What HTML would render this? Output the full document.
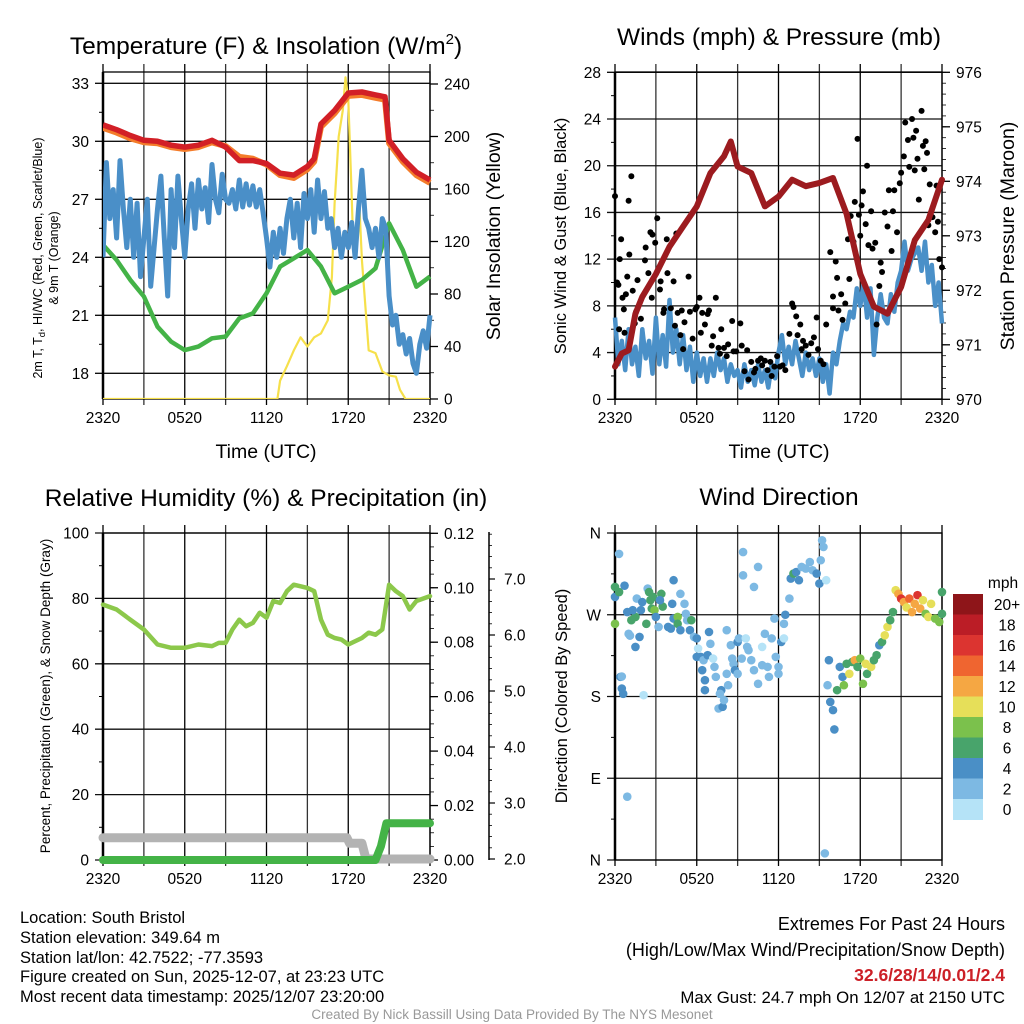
<!DOCTYPE html>
<html><head><meta charset="utf-8">
<style>
html,body{margin:0;padding:0;background:#fff;}
svg{display:block;font-family:"Liberation Sans",sans-serif;}
</style></head>
<body>
<svg id="chart" width="1024" height="1024" viewBox="0 0 1024 1024" xmlns="http://www.w3.org/2000/svg">
<rect x="0" y="0" width="1024" height="1024" fill="#fff"/>
<text x="266" y="54" font-size="24.5" text-anchor="middle">Temperature (F) &amp; Insolation (W/m<tspan font-size="15" dy="-10">2</tspan><tspan dy="10">)</tspan></text>
<text x="779" y="45" font-size="24.5" text-anchor="middle">Winds (mph) &amp; Pressure (mb)</text>
<text x="266" y="506" font-size="24.5" text-anchor="middle">Relative Humidity (%) &amp; Precipitation (in)</text>
<text x="779" y="505" font-size="24.5" text-anchor="middle">Wind Direction</text>

<text x="266" y="458" font-size="19.5" text-anchor="middle">Time (UTC)</text>
<text x="779" y="458" font-size="19.5" text-anchor="middle">Time (UTC)</text>

<text transform="translate(42,258) rotate(-90)" font-size="12.5" text-anchor="middle">2m T, T<tspan font-size="9.5" dy="3">d</tspan><tspan dy="-3">, HI/WC (Red, Green, Scarlet/Blue)</tspan></text>
<text transform="translate(58,258) rotate(-90)" font-size="12.5" text-anchor="middle">&amp; 9m T (Orange)</text>
<text transform="translate(500,236) rotate(-90)" font-size="19.5" text-anchor="middle">Solar Insolation (Yellow)</text>
<text transform="translate(566,236) rotate(-90)" font-size="16.5" text-anchor="middle">Sonic Wind &amp; Gust (Blue, Black)</text>
<text transform="translate(1014,236) rotate(-90)" font-size="19.5" text-anchor="middle">Station Pressure (Maroon)</text>
<text transform="translate(50,696) rotate(-90)" font-size="13.5" text-anchor="middle">Percent, Precipitation (Green), &amp; Snow Depth (Gray)</text>
<text transform="translate(567,696) rotate(-90)" font-size="16.5" text-anchor="middle">Direction (Colored By Speed)</text>

<g font-size="16.5">
<text x="20" y="923">Location: South Bristol</text>
<text x="20" y="943">Station elevation: 349.64 m</text>
<text x="20" y="963">Station lat/lon: 42.7522; -77.3593</text>
<text x="20" y="982">Figure created on Sun, 2025-12-07, at 23:23 UTC</text>
<text x="20" y="1002">Most recent data timestamp: 2025/12/07 23:20:00</text>
</g>
<g font-size="18" text-anchor="end">
<text x="1005" y="930">Extremes For Past 24 Hours</text>
<text x="1005" y="956">(High/Low/Max Wind/Precipitation/Snow Depth)</text>
<text x="1005" y="981" fill="#cc2027" font-weight="bold" font-size="17.5">32.6/28/14/0.01/2.4</text>
<text x="1005" y="1003" font-size="16.8">Max Gust: 24.7 mph On 12/07 at 2150 UTC</text>
</g>
<text x="512" y="1019" font-size="13.5" fill="#999" text-anchor="middle">Created By Nick Bassill Using Data Provided By The NYS Mesonet</text>
<g id="layer"></g>
</svg>
<script>
// ---------- DATA ----------
var tempHours = [0,1,2,3,4,5,6,7,8,9,10,11,12,13,14,15,15.5,16,17,18,19,20,20.7,21,22,23,24];
var tempVals = [30.85,30.6,30.3,30.05,30.0,29.8,29.7,29.8,30.05,29.7,29.0,29.0,28.85,28.35,28.25,28.7,29.1,30.9,31.6,32.5,32.55,32.4,32.3,30.05,29.1,28.4,28.0];
var temp9mVals = [30.7,30.45,30.15,29.95,29.9,29.7,29.6,29.7,29.95,29.75,29.2,29.1,28.8,28.25,28.1,28.55,28.95,30.75,31.45,32.35,32.4,32.25,32.15,29.9,28.95,28.25,27.85];
var dewHours = [0,1,2,3,4,5,6,7,8,9,10,11,12,13,14,15,16,17,18,19,20,21,22,23,24];
var dewVals = [24.64,23.86,22.83,21.97,20.41,19.64,19.2,19.38,19.81,19.9,20.84,21.1,22.14,23.52,23.95,24.38,23.52,22.14,22.48,22.83,23.43,25.76,24.38,22.48,23.0];
var wcVals = [24,28.9,26,27.5,25,29,26.5,24.5,27,24,26.8,23,25,27,22.5,24.5,26.5,28.2,25,22,27.5,24.5,28.2,26,24,26.5,27.8,25.5,28,26.5,27.6,25.8,28.8,27,26.3,28.3,27,26.8,27.5,26.5,28,26.6,27.8,26.7,27.7,26.6,27.5,26.3,25,23.5,25.3,24,25.5,24.2,26,27,25,26.8,24.5,27.3,26,27.5,25.3,28,26,27.4,25.5,26,24.5,25.5,24,25.3,24.5,25.8,24,26.5,28.5,26,25.5,24.5,25.5,24,26,25.5,22,20.5,21,19.5,20,19,19.8,18.5,18,19.5,20.2,19.3,21];
var solarHours = [0,12.8,13,13.5,14,14.5,15,15.5,16,16.5,16.8,17,17.3,17.6,17.8,18,18.2,18.4,18.6,18.8,19,19.5,20,20.5,21,21.5,21.8,22.2,24];
var solarVals = [0,0,14,25,37,47,40,47,50,60,93,149,200,220,245,228,170,108,131,152,106,37,35,21,18,17,7,0,0];
var presHours = [0,0.5,1,1.5,2,3,4,5,6,7,8,8.5,9,10,11,12,13,14,15,16,17,18,19,20,21,22,23,24];
var presVals = [970.6,970.84,970.9,971.57,971.88,972.3,972.8,973.17,973.54,974.15,974.46,974.73,974.27,974.15,973.54,973.72,974.03,973.91,973.97,974.06,973.4,972.3,971.7,971.57,972.06,972.92,973.29,974.03];
var windVals = [7,3,5,2.5,6,3,4.5,2,6,3.5,5,2.2,7,3,5.5,2.8,8.5,4,6,3,5.5,2.5,4.5,1.5,4,2,3.5,1.5,3.5,2,4,2.5,3.5,1.5,3,2,2.5,1,3,1.5,2.5,1.2,3,1.5,2.5,1,3,1.8,4,5.5,3,4.5,3,5,3.5,2,4,2.5,3.5,2,3.5,1.5,3,0.5,4,3,5,6.5,6,7.5,7,9.5,8,10,7,9.5,3.8,7,9,7,6.5,9,7.5,10,11,13.5,11,12,12.5,13,11,13.5,10,11.5,8,10,6.5];
var gustHours = [0,0.15,0.25,0.3,0.35,0.45,0.55,0.65,0.7,0.8,0.9,1.0,1.05,1.2,1.3,1.45,1.55,1.65,1.9,2.2,2.25,2.45,2.6,2.7,2.75,2.95,3.1,3.3,3.35,3.55,3.6,3.8,3.85,4.1,4.3,4.4,4.5,4.6,4.8,4.9,5.0,5.1,5.4,5.5,5.7,5.9,6.0,6.2,6.3,6.4,6.6,6.8,6.9,7.1,7.2,7.4,7.6,7.7,7.8,8.0,8.2,8.3,8.6,8.7,8.9,9.2,9.3,9.5,9.7,9.8,10.0,10.2,10.3,10.5,10.7,10.8,11.0,11.2,11.4,11.5,11.7,11.9,12.1,12.3,12.5,12.8,13.0,13.1,13.3,13.4,13.6,13.7,13.8,14.0,14.2,14.4,14.6,14.8,14.9,15.1,15.3,15.5,15.8,16.0,16.0,16.2,16.3,16.4,16.6,16.7,16.9,17.1,17.2,17.3,17.5,17.6,17.8,17.9,18.0,18.1,18.2,18.4,18.5,18.6,18.8,18.9,19.1,19.2,19.4,19.5,19.6,19.8,20.0,20.1,20.3,20.4,20.5,20.7,20.9,21.0,21.2,21.3,21.5,21.6,21.8,21.9,22.0,22.1,22.2,22.3,22.5,22.6,22.7,22.8,22.9,23.0,23.1,23.3,23.5,23.6,23.7,23.8,24.0];
var gustVals = [17.4,10,9.8,6,12,13.7,8.7,7.7,5.7,9,10.5,17,12.4,19.1,9.3,6.5,7.5,10.2,6.9,11.9,13,10.8,14.3,8.7,14.1,13.4,15.5,9.4,10.1,7.4,7.7,13.7,10.8,7.8,10.1,6.3,14.2,7.4,5.5,7.6,4.3,6.6,10.5,7.5,5.2,7.7,7.9,8.7,5.7,7.4,6.4,7.3,7.6,4.6,5.4,8.7,4.4,3.9,6.0,4.4,3.7,4.7,6.7,4.1,4.1,6.5,4.6,2.4,4.2,1.7,3.2,2.3,2.6,3.3,3.5,2.9,3.3,2.5,3.2,2.0,2.8,3.7,2.8,2.9,2.5,5.6,8.2,7.9,7.1,5.5,6.4,4.3,5.0,4.6,3.8,4.8,5.3,7.0,4.3,3.3,3.0,6.4,12.6,8.8,7.8,11.8,10.4,7.6,9.0,6.8,8.2,13.7,10.3,15.7,13.5,16.9,22.3,15.8,14.0,16.6,17.8,15.0,20.0,13.2,16.1,12.9,13.4,6.4,9.7,11.7,10.9,16.0,14.8,17.9,12.7,16.1,17.9,14.3,18.5,19.4,20.8,23.7,22.2,19.9,24.0,22.4,19.6,23.0,20.6,17.1,24.7,21.7,19.7,22.1,21.1,14.9,18.4,15.6,14.3,18.3,15.2,12.0,11.3];
var rhHours = [0,1,2,3,4,5,6,7,8,8.5,9,9.5,10,10.5,11,11.5,12,12.5,13,13.5,14,15,15.5,16,16.5,17,17.5,18,19,19.5,20,20.5,21,21.5,22,22.5,23,24];
var rhVals = [78.1,76.6,73.5,70.5,65.9,64.9,64.9,65.9,65.4,66.4,66.4,70.5,73.5,71.5,72.5,75.6,74.1,79.2,78.6,82.2,84.2,83.2,82.2,73.5,68.9,67.9,67.4,65.9,67.9,69.5,68.9,70.5,84.2,82.2,80.7,76.6,79.2,80.7];
var precipHours = [0,20,20.4,20.8,24];
var precipVals = [0,0,0.005,0.0135,0.0135];
var snowHours = [0,17.9,18.1,19.0,19.3,24];
var snowVals = [2.38,2.38,2.28,2.28,2.0,2.0];
var dirHours = [0,0,0,0.3,0.3,0.7,0.4,0.5,0.5,0.6,0.9,0.9,1.0,1.1,1.5,1.8,1.5,1.2,1.3,1.6,1.9,2.0,2.1,2.3,2.4,2.5,2.6,2.8,2.7,2.9,3.0,3.2,3.4,3.5,3.3,3.9,4.1,4.3,4.3,4.2,4.6,4.6,4.8,4.8,5.1,5.2,5.3,5.5,5.6,5.8,6.0,6.1,6.0,6.3,6.5,6.4,6.6,6.6,6.8,6.9,7.0,7.2,7.3,7.4,7.6,7.8,7.7,7.9,8.0,8.2,8.3,8.2,8.5,8.6,8.7,8.8,9.0,9.1,9.0,9.3,9.4,9.4,9.6,9.7,9.8,10.0,10.2,10.2,10.5,10.5,10.8,10.8,11.0,11.2,11.3,11.5,11.7,11.8,12.0,12.0,12.2,12.4,12.4,12.5,12.8,12.9,13.1,13.3,13.5,13.7,14.0,14.3,14.5,14.8,15.0,15.1,15.2,15.3,15.5,15.4,15.7,15.6,15.8,16.0,16.1,16.3,16.5,16.7,16.8,17.0,17.2,17.4,17.6,17.8,18.0,18.2,18.4,18.5,18.8,19.0,19.2,19.4,19.6,19.8,20.0,20.2,20.4,20.6,20.8,21.0,21.2,21.4,21.6,21.8,22.0,22.2,22.4,22.6,22.8,23.0,23.2,23.5,23.8,24.0,24.0];
var dirDegs = [300.6,289.6,260,337,295,302,201.6,202,188.8,183,69.7,273,249,247,234.6,245.6,267.6,264,275,287.8,275,284,181.5,260,298.8,295,286,289.6,276.8,275,267.6,256.6,293,279,286,256.6,254.8,265.8,308,282,267.6,260,293,253,282,271,264,253,264,245.6,244,232.8,223.6,223.6,220,209,187,198,225.5,251,238,221.8,212.6,201.6,166.8,187,183,168.6,176,205,192.4,253,236.5,221.8,216,209,240,244,205,221.8,339,313.4,244,234.6,231,220,209,300.6,322.6,194,214.5,234.6,249,212.6,201.6,244,265.8,223.6,212.6,205,240,244,260,270,287.8,309.8,315.3,317,308,322.6,320.8,328,319,315.3,304.3,330,352,344.6,308,7.3,220,192.4,174,165,143.7,187,212.6,201.6,192.4,216,205,218,220,212.6,221.8,194,216,205,212.6,220,225.5,236.5,240,247.4,256.6,264,273,297,293,287.8,284,278,287.8,273,282,291.6,276.8,286,271,267.6,282,265.8,262,295,271];
var dirSpeeds = [6,4,8,2,6,4,4,2,4,4,2,4,2,2,4,4,6,6,4,2,4,4,0,6,2,6,6,6,6,8,4,2,6,6,4,4,4,4,4,4,8,6,2,4,2,2,2,4,6,2,4,0,4,4,2,4,4,4,4,4,2,0,2,2,2,4,2,4,2,2,2,2,2,2,2,4,4,2,2,2,2,2,0,2,2,2,2,2,2,2,2,0,2,2,2,2,2,2,2,2,4,0,2,4,2,4,6,4,4,2,2,2,2,4,4,2,2,2,0,2,4,2,4,4,4,6,4,4,8,6,10,6,12,6,8,8,10,6,10,6,6,4,6,10,10,6,6,10,12,16,12,10,14,12,12,16,12,10,8,10,10,8,8,6,6];
var speedBinColors = ["#b5e3f7","#7db9e3","#4a8fc6","#48a46b","#7bc14c","#e6df59","#f5a743","#ef6530","#dc3430","#bb1d26","#8e1519"];
var speedBinLabels = ["0","2","4","6","8","10","12","14","16","18","20+"];
var timeTickLabels = ["2320","0520","1120","1720","2320"];

// ---------- HELPERS ----------
var NS = "http://www.w3.org/2000/svg";
var layer = document.getElementById("layer");
var TF = 15.5;
function mk(tag, attrs, parent) {
  var e = document.createElementNS(NS, tag);
  for (var k in attrs) e.setAttribute(k, attrs[k]);
  (parent || layer).appendChild(e);
  return e;
}
function txt(x, y, s, size, anchor, parent) {
  var t = mk("text", {x: x, y: y, "font-size": size, "text-anchor": anchor}, parent);
  t.textContent = s;
  return t;
}
function linearScale(d0, d1, r0, r1) { return function (v) { return r0 + (v - d0) / (d1 - d0) * (r1 - r0); }; }
function pathFrom(xs, ys, sx, sy) {
  var d = "";
  for (var i = 0; i < xs.length; i++) d += (i ? "L" : "M") + sx(xs[i]).toFixed(1) + "," + sy(ys[i]).toFixed(1);
  return d;
}
function seqHours(n) { var a = []; for (var i = 0; i < n; i++) a.push(i * 24 / (n - 1)); return a; }

function panelFrame(name, x0, y0, x1, y1, leftTicks, leftSy, rightAxis) {
  var g = mk("g", {});
  
  
  var sx = linearScale(0, 24, x0, x1);
  for (var h = 0; h <= 24; h += 3) {
    var x = sx(h);
    var vl = mk("line", {x1: x, y1: y0 - 8, x2: x, y2: y1 + 6, stroke: (h % 6 === 0 ? "#000" : "#333"), "stroke-width": 1.3}, g);
    
    
  }
  for (var i = 0; i < timeTickLabels.length; i++) {
    var tl = txt(sx(i * 6), y1 + 24, timeTickLabels[i], TF, "middle", g);
    
    
  }
  for (var j = 0; j < leftTicks.length; j++) {
    var y = leftSy(leftTicks[j].v);
    var hl = mk("line", {x1: x0 - 8, y1: y, x2: x1, y2: y, stroke: "#111", "stroke-width": 1.3}, g);
    
    
    var lt = txt(x0 - 14, y + 5.5, leftTicks[j].s, TF, "end", g);
    
    
    if (j < leftTicks.length - 1) {
      var ym = (y + leftSy(leftTicks[j + 1].v)) / 2;
      mk("line", {x1: x0 - 4, y1: ym, x2: x0, y2: ym, stroke: "#000", "stroke-width": 1}, g);
    }
  }
  var fr = mk("rect", {x: x0, y: y0, width: x1 - x0, height: y1 - y0, fill: "none", stroke: "#000", "stroke-width": 1.3}, g);
  
  
  mk("line", {x1: x0, y1: y0, x2: x0, y2: y1, stroke: "#000", "stroke-width": 2.5}, g);
  if (rightAxis) {
    var ra = rightAxis;
    for (var k = 0; k < ra.ticks.length; k++) {
      var yy = ra.sy(ra.ticks[k].v);
      mk("line", {x1: ra.x, y1: yy, x2: ra.x + 8, y2: yy, stroke: "#000", "stroke-width": 1.3}, g);
      var rt = txt(ra.x + 14, yy + 5.5, ra.ticks[k].s, TF, "start", g);
      
      
    }
    for (var m = 0; m < ra.minor.length; m++) {
      var ym2 = ra.sy(ra.minor[m]);
      mk("line", {x1: ra.x, y1: ym2, x2: ra.x + 4, y2: ym2, stroke: "#000", "stroke-width": 0.8}, g);
    }
  }
  return sx;
}
function range(a, b, s) { var r = []; for (var v = a; v <= b + 1e-9; v += s) r.push(+v.toFixed(4)); return r; }
function ticksOf(vals, fmt) { return vals.map(function (v) { return {v: v, s: fmt(v)}; }); }

// ---------- PANEL 1: Temperature ----------
(function () {
  var x0 = 103, x1 = 430, y0 = 72, y1 = 399;
  var sy = linearScale(18, 33, 373.3, 83.3);
  var sySol = linearScale(0, 240, 399, 84);
  var sx = panelFrame("temp", x0, y0, x1, y1, ticksOf([18, 21, 24, 27, 30, 33], String), sy,
    {x: x1, sy: sySol, ticks: ticksOf([0, 40, 80, 120, 160, 200, 240], String), minor: range(20, 240, 20)});
  var clip = mk("clipPath", {id: "clip1"});
  mk("rect", {x: x0, y: y0 - 4, width: x1 - x0 + 3, height: y1 - y0 + 4}, clip);
  var g = mk("g", {"clip-path": "url(#clip1)"});
  var sol = mk("path", {d: pathFrom(solarHours, solarVals, sx, sySol), fill: "none", stroke: "#f6e04b", "stroke-width": 2.2, "stroke-linejoin": "round"}, g);
  
  
  var dew = mk("path", {d: pathFrom(dewHours, dewVals, sx, sy), fill: "none", stroke: "#44b347", "stroke-width": 4.5, "stroke-linejoin": "round"}, g);
  
  
  var wc = mk("path", {d: pathFrom(seqHours(wcVals.length), wcVals, sx, sy), fill: "none", stroke: "#4a8fc8", "stroke-width": 5, "stroke-linejoin": "round"}, g);
  
  
  var t9 = mk("path", {d: pathFrom(tempHours, temp9mVals, sx, sy), fill: "none", stroke: "#f47c2a", "stroke-width": 6, "stroke-linejoin": "round"}, g);
  
  
  var t2 = mk("path", {d: pathFrom(tempHours, tempVals, sx, sy), fill: "none", stroke: "#d21f26", "stroke-width": 5.5, "stroke-linejoin": "round"}, g);
  
  
})();

// ---------- PANEL 2: Winds ----------
(function () {
  var x0 = 615, x1 = 942, y0 = 72, y1 = 399;
  var sy = linearScale(0, 28, 399.3, 72.3);
  var syP = linearScale(970, 976, 399.3, 72.3);
  var sx = panelFrame("wind", x0, y0, x1, y1, ticksOf([0, 4, 8, 12, 16, 20, 24, 28], String), sy,
    {x: x1, sy: syP, ticks: ticksOf([970, 971, 972, 973, 974, 975, 976], String), minor: range(970.2, 976, 0.2)});
  var clip = mk("clipPath", {id: "clip2"});
  mk("rect", {x: x0 - 4, y: y0, width: x1 - x0 + 8, height: y1 - y0}, clip);
  var g = mk("g", {"clip-path": "url(#clip2)"});
  var w = mk("path", {d: pathFrom(seqHours(windVals.length), windVals, sx, sy), fill: "none", stroke: "#4a90c8", "stroke-width": 4.5, "stroke-linejoin": "round"}, g);
  
  
  for (var i = 0; i < gustHours.length; i++) {
    var c = mk("circle", {cx: sx(gustHours[i]), cy: sy(gustVals[i]), r: 3, fill: "#000"}, g);
    
    
  }
  var p = mk("path", {d: pathFrom(presHours, presVals, sx, syP), fill: "none", stroke: "#9c1b1f", "stroke-width": 6, "stroke-linejoin": "round", "stroke-linecap": "round"}, g);
  
  
})();

// ---------- PANEL 3: RH ----------
(function () {
  var x0 = 103, x1 = 430, y0 = 533, y1 = 860;
  var sy = linearScale(0, 100, 860, 533);
  var syPr = linearScale(0, 0.12, 860, 533.3);
  var sySn = linearScale(2, 7, 859, 579);
  var sx = panelFrame("rh", x0, y0, x1, y1, ticksOf([0, 20, 40, 60, 80, 100], String), sy,
    {x: x1, sy: syPr, ticks: ticksOf([0, 0.02, 0.04, 0.06, 0.08, 0.10, 0.12], function (v) { return v.toFixed(2); }), minor: range(0.005, 0.12, 0.005)});
  var ga = mk("g", {});
  
  
  mk("line", {x1: 489, y1: 532, x2: 489, y2: 860, stroke: "#000", "stroke-width": 1.5}, ga);
  var sn = [2, 3, 4, 5, 6, 7];
  for (var i = 0; i < sn.length; i++) {
    mk("line", {x1: 489, y1: sySn(sn[i]), x2: 495, y2: sySn(sn[i]), stroke: "#000", "stroke-width": 1.2}, ga);
    txt(504, sySn(sn[i]) + 5.5, sn[i].toFixed(1), TF, "start", ga);
  }
  var mn = range(2.2, 7.8, 0.2);
  for (var j = 0; j < mn.length; j++) {
    var yy = sySn(mn[j]);
    if (yy > 530) mk("line", {x1: 489, y1: yy, x2: 492, y2: yy, stroke: "#000", "stroke-width": 0.8}, ga);
  }
  var g = mk("g", {});
  var s = mk("path", {d: pathFrom(snowHours, snowVals, sx, sySn), fill: "none", stroke: "#b3b3b3", "stroke-width": 9, "stroke-linejoin": "round", "stroke-linecap": "round"}, g);
  
  
  var pr = mk("path", {d: pathFrom(precipHours, precipVals, sx, syPr), fill: "none", stroke: "#44b347", "stroke-width": 8, "stroke-linejoin": "round", "stroke-linecap": "round"}, g);
  
  
  var rh = mk("path", {d: pathFrom(rhHours, rhVals, sx, sy), fill: "none", stroke: "#8cc84b", "stroke-width": 4.5, "stroke-linejoin": "round", "stroke-linecap": "round"}, g);
  
  
})();

// ---------- PANEL 4: Direction ----------
(function () {
  var x0 = 615, x1 = 942, y0 = 533, y1 = 860;
  var sy = linearScale(0, 360, 860, 533);
  var sx = panelFrame("direction", x0, y0, x1, y1, ticksOf([0, 90, 180, 270, 360], function (v) { return ({0: "N", 90: "E", 180: "S", 270: "W", 360: "N"})[v]; }), sy, null);
  var g = mk("g", {});
  for (var i = 0; i < dirHours.length; i++) {
    var bin = Math.min(10, Math.floor(dirSpeeds[i] / 2));
    var c = mk("circle", {cx: sx(dirHours[i]), cy: sy(dirDegs[i]), r: 4.3, fill: speedBinColors[bin]}, g);
    
    
  }
  var cb = mk("g", {});
  
  
  var top = 594, bh = 20.5;
  txt(1003, 588, "mph", TF, "middle", cb);
  for (var k = 0; k < speedBinColors.length; k++) {
    var idx = speedBinColors.length - 1 - k;
    var r = mk("rect", {x: 953, y: top + k * bh, width: 30, height: bh + 0.5, fill: speedBinColors[idx]}, cb);
    
    
    txt(1007, top + k * bh + bh / 2 + 5.5, speedBinLabels[idx], TF, "middle", cb);
  }
})();
</script>
</body></html>
